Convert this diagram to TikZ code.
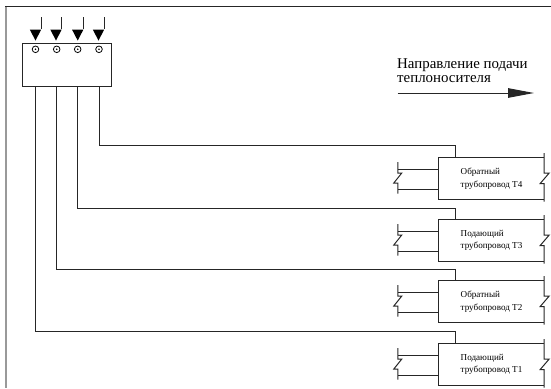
\documentclass[tikz,border=0pt]{standalone}
\usepackage{fontspec}
\setmainfont{Liberation Serif}
\usetikzlibrary{shapes,arrows.meta}
\tikzset{line/.style={line width=1pt, black!85}}
\tikzset{frameb/.style={line width=2pt, black!40}}
\tikzset{framet/.style={line width=1pt, black!85}}
\tikzset{port/.style={circle, draw, line width=0.8pt, inner sep=0pt, minimum size=6.6pt, path picture={\fill (path picture bounding box.center) circle (0.9pt);}}}
\tikzset{head/.style={isosceles triangle, isosceles triangle apex angle=55, isosceles triangle stretches, shape border rotate=270, fill=black, inner sep=0pt, minimum width=11.4pt, minimum height=11pt, anchor=apex}}
\tikzset{pipebox/.style={rectangle, inner sep=0pt, minimum width=105pt, minimum height=41pt, align=left, font=\fontsize{9.1}{12.6}\selectfont}}
% left and right torn ends of a pipeline box
\newcommand{\leftend}[1]{\draw[line] ([shift={(-41,-16.5)}]#1.west) -- ++(0,11) -- ++(4,0) -- ++(-8,10) -- ++(4,0) -- ++(0,10.5);}
\newcommand{\rightend}[1]{\draw[line] ([shift={(0,-25.5)}]#1.east) -- ++(0,20) -- ++(5,0) -- ++(-9,10.5) -- ++(4,0) -- ++(0,18);}

\begin{document}
\begin{tikzpicture}[x=1pt,y=-1pt]
        \useasboundingbox (0,0) rectangle (551,388);
        \draw[frameb] (6,6) -- (6,388);
        \draw[framet] (5,6) -- (551,6);

        \node[draw, line, rectangle, inner sep=0pt, minimum width=89pt, minimum height=43.5pt] (manifold) at (66.5,65) {};
        \node[port] (p1) at (35.5,49.3) {};
        \node[port] (p2) at (56.7,49.3) {};
        \node[port] (p3) at (77.7,49.3) {};
        \node[port] (p4) at (99,49.3) {};

        \node[head] (h1) at (35.5,41) {};
        \node[head] (h2) at (56,41) {};
        \node[head] (h3) at (77.7,41) {};
        \node[head] (h4) at (98.5,41) {};
        \coordinate (s1) at (41,17);
        \coordinate (s2) at (61.3,17);
        \coordinate (s3) at (83,17);
        \coordinate (s4) at (104,17);
        \draw[line] (s1) -- (s1 |- h1.lower side);
        \draw[line] (s2) -- (s2 |- h2.lower side);
        \draw[line] (s3) -- (s3 |- h3.lower side);
        \draw[line] (s4) -- (s4 |- h4.lower side);

        \node[anchor=north west, inner sep=0pt, align=left, font=\fontsize{14.9}{14}\selectfont] (flowtext) at (397,58.5) {Направление подачи\\теплоносителя};
        \coordinate (f1) at (397.5,93);
        \coordinate (f2) at (534,93);
        \draw[line, -{Triangle[length=26pt,width=9.5pt]}] (f1) -- (f2);

        \node[pipebox] (t4) at (491.5,178.5) {Обратный\\трубопровод Т4};
        \node[pipebox] (t3) at (491.5,240.5) {Подающий\\трубопровод Т3};
        \node[pipebox] (t2) at (491.5,301.5) {Обратный\\трубопровод Т2};
        \node[pipebox] (t1) at (491.5,364.5) {Подающий\\трубопровод Т1};

        \draw[line] (t4.north east) -- (t4.north west) -- (t4.south west) -- (t4.south east);
        \draw[line] (t3.north east) -- (t3.north west) -- (t3.south west) -- (t3.south east);
        \draw[line] (t2.north east) -- (t2.north west) -- (t2.south west) -- (t2.south east);
        \draw[line] (t1.north east) -- (t1.north west) -- (t1.south west) -- (t1.south east);

        \leftend{t4} \rightend{t4}
        \leftend{t3} \rightend{t3}
        \leftend{t2} \rightend{t2}
        \leftend{t1} \rightend{t1}

        \draw[line] ([yshift=-10.5pt]t4.west) -- ++(-41,0);
        \draw[line] ([yshift=9.5pt]t4.west) -- ++(-41,0);
        \draw[line] ([yshift=-10.5pt]t3.west) -- ++(-41,0);
        \draw[line] ([yshift=9.5pt]t3.west) -- ++(-41,0);
        \draw[line] ([yshift=-10.5pt]t2.west) -- ++(-41,0);
        \draw[line] ([yshift=9.5pt]t2.west) -- ++(-41,0);
        \draw[line] ([yshift=-10.5pt]t1.west) -- ++(-41,0);
        \draw[line] ([yshift=9.5pt]t1.west) -- ++(-41,0);

        \coordinate (e4) at (455,145);
        \coordinate (e3) at (455,208);
        \coordinate (e2) at (455,269);
        \coordinate (e1) at (455,331);
        \draw[line] (p4 |- manifold.south) |- (e4) -- (e4 |- t4.north);
        \draw[line] (p3 |- manifold.south) |- (e3) -- (e3 |- t3.north);
        \draw[line] (p2 |- manifold.south) |- (e2) -- (e2 |- t2.north);
        \draw[line] (p1 |- manifold.south) |- (e1) -- (e1 |- t1.north);
\end{tikzpicture}
\end{document}
